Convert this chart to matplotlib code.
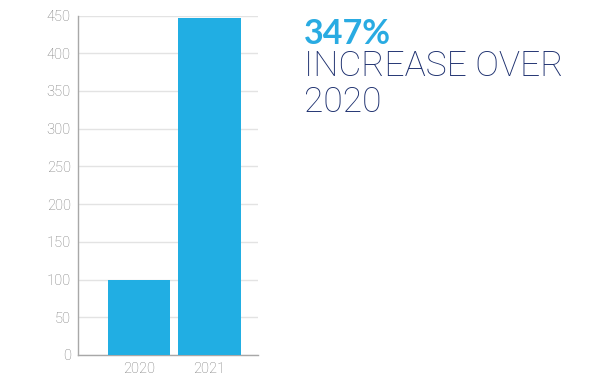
import matplotlib
matplotlib.use("Agg")
import matplotlib.pyplot as plt

categories = ["2020", "2021"]
values = [100, 447]
yticks = [0, 50, 100, 150, 200, 250, 300, 350, 400, 450]
headline = "347%"
subline = "INCREASE OVER\n2020"

plt.rcParams['font.family'] = ['Lato', 'DejaVu Sans']
light = ['Roboto', 'DejaVu Sans']

fig = plt.figure(figsize=(6, 3.86), dpi=100)
W, H = 600, 386
x0, x1 = 77.7, 258
y0, y1 = 355, 15.5
ax = fig.add_axes([x0 / W, 1 - y0 / H, (x1 - x0) / W, (y0 - y1) / H])

bar_color = "#21aee3"
ax.bar(range(len(categories)), values, width=0.89, color=bar_color, zorder=3)
ax.set_xlim(-0.87, 1.69)
ax.set_ylim(0, 450)
ax.set_yticks(yticks)
ax.set_xticks(range(len(categories)))
ax.set_xticklabels(categories)
ax.yaxis.grid(True, color="#e3e3e3", linewidth=1, zorder=0)
ax.set_axisbelow(True)
for s in ["top", "right"]:
    ax.spines[s].set_visible(False)
for s in ["left", "bottom"]:
    ax.spines[s].set_color("#a8a8a8")
    ax.spines[s].set_linewidth(1)
ax.tick_params(length=0, labelsize=10.5, labelcolor="#7a7a7a", pad=5)
for lab in ax.get_xticklabels() + ax.get_yticklabels():
    lab.set_family(light)
    lab.set_fontweight("light")

fig.text(304 / W, 1 - 44 / H, headline, color="#29abe2", fontsize=24.5,
         fontweight="bold", ha="left", va="baseline")
fig.text(304 / W, 1 - 112 / H, subline, color="#1c2f6e", fontsize=25.5,
         family=light, fontweight="light", ha="left", va="baseline", linespacing=1.1)

fig.savefig("out.png", dpi=100)
